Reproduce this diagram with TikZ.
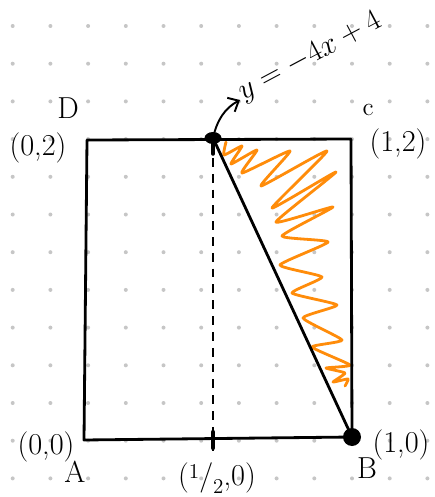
\documentclass[tikz,border=0pt]{standalone}
\usetikzlibrary{arrows.meta}
\definecolor{arancio}{RGB}{255,140,10}
\begin{document}
\begin{tikzpicture}[x=0.02cm, y=-0.02cm,
			bordo/.style={line width=1.6pt, line cap=round, line join=round, black},
			guida/.style={line width=0.7pt, dash pattern=on 5pt off 4pt, black},
			zigzag/.style={line width=1.6pt, line cap=round, line join=round, arancio},
			freccia/.style={-{Straight Barb[length=5pt, width=9pt]}, line width=1.1pt, black},
			lab/.style={font=\LARGE, inner sep=0pt},
			griglia/.style={gray!45},
			]
			
			\def\passo{37.7}   % passo della griglia a punti
			\def\xo{12.7}      % primo punto in x
			\def\yo{26}        % primo punto in y
			
			\useasboundingbox (0,0) rectangle (435,497);
			
			%%═══ GRIGLIA A PUNTI ═════════════════════════════════════════════
			\foreach \i in {0,...,11}
				\foreach \j in {0,...,12}
					\fill[griglia] ({\xo+\i*\passo},{\yo+\j*\passo}) circle (0.04cm);
			
			%%═══ RETTANGOLO ABCD ═════════════════════════════════════════════
			\coordinate (A) at (84,440);
			\coordinate (B) at (352,437);
			\coordinate (C) at (351,139);
			\coordinate (D) at (87,140);
			\coordinate (M) at (213,138);   % punto (1/2,2)
			\coordinate (H) at (213,440);   % piede, (1/2,0)
			
			% zona tratteggiata in arancio (triangolo M C B)
			\draw[zigzag] plot[smooth, tension=0.3] coordinates {
				(226,142) (224,155) (242,146) (231,164) (257,150) (242,173)
				(290,151) (261,186) (327,151) (272,208) (336,172) (276,222)
				(333,207) (282,236) (328,242) (280,265) (322,277) (292,293)
				(337,305) (303,318) (342,340) (312,347) (350,365) (326,368)
				(345,373) (333,382) (348,379) (345,386)};
			
			\draw[bordo] (D) -- (C) -- (B) -- (A) -- cycle;
			\draw[bordo] (M) -- (B);
			% verticale tratteggiata da M al piede
			\draw[guida] ([yshift=-0.4cm]M) -- ([yshift=-0.3cm]H);
			\draw[bordo, line width=2.4pt] ([yshift=0.16cm]H) -- ([yshift=-0.16cm]H);
			\draw[bordo, line width=2pt] (M) -- ++(0,16);
			
			% punti pieni
			\fill (M) ellipse (0.17cm and 0.12cm);
			\fill (B) circle (0.18cm);
			
			%%═══ ETICHETTE ═══════════════════════════════════════════════════
			\node[lab] (lD) at (68,108) {D};
			\node[lab] (lC) at (368,110) {\Large c};
			\node[lab] (lA) at (75,472) {A};
			\node[lab] (lB) at (367,468) {B};
			\node[lab] (c02) at (38,148) {(0,2)};
			\node[lab] (c12) at (398,144) {(1,2)};
			\node[lab] (c00) at (46,447) {(0,0)};
			\node[lab] (c10) at (401,445) {(1,0)};
			\node[lab] (cmz) at (217,478) {(\raisebox{0.5ex}{\large 1}/\raisebox{-0.6ex}{\large 2},0)};
			
			% retta per M e B
			\node[lab, rotate=28] (eq) at (310,57) {$y=-4x+4$};
			\coordinate (punta) at (240,100);
			\draw[freccia] (M) .. controls (217,120) and (225,108) .. (punta);
			
		\end{tikzpicture}
\end{document}
